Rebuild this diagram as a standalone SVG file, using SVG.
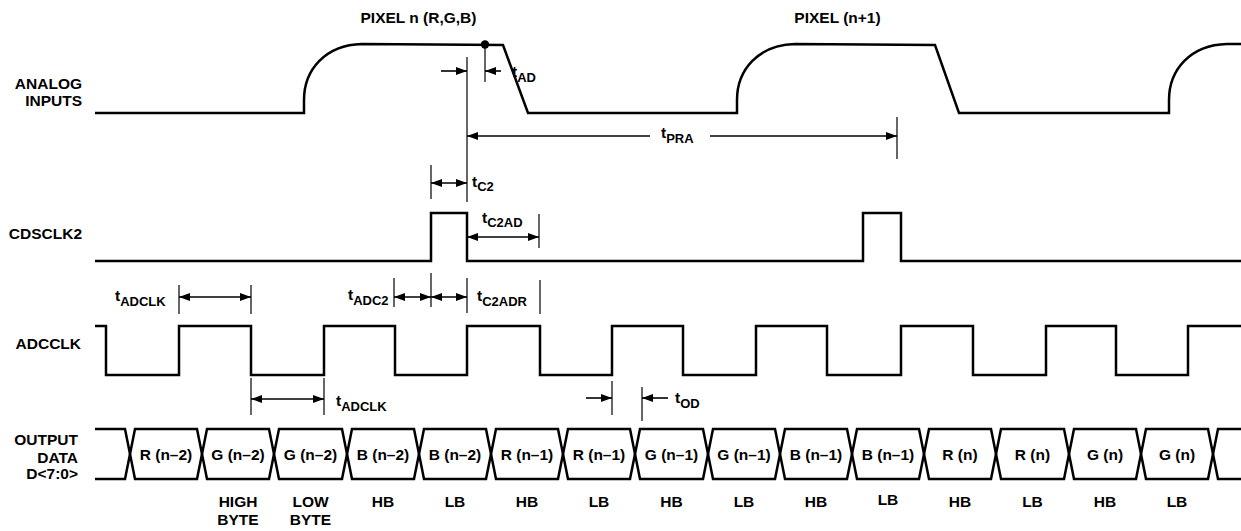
<svg xmlns="http://www.w3.org/2000/svg" width="1241" height="531" viewBox="0 0 1241 531">
<defs>
<marker id="ah" markerUnits="userSpaceOnUse" markerWidth="11" markerHeight="8" refX="11" refY="4" orient="auto-start-reverse">
<path d="M0,0 L11,4 L0,8 Z" fill="#000"/>
</marker>
<style>
.sig{fill:none;stroke:#000;stroke-width:2.5;stroke-linejoin:miter}
.cell{fill:none;stroke:#000;stroke-width:2.5;stroke-linejoin:miter}
.ext{stroke:#000;stroke-width:1.2;fill:none}
.arr{stroke:#000;stroke-width:1.6;fill:none;marker-end:url(#ah)}
.dbl{stroke:#000;stroke-width:1.6;fill:none;marker-start:url(#ah);marker-end:url(#ah)}
text{font-family:"Liberation Sans",Arial,Helvetica,sans-serif;font-weight:bold;font-size:15.5px;fill:#000}
.r{text-anchor:end}
.m{text-anchor:middle}
.t{font-size:15.5px}
.s{font-size:13px}
</style>
</defs>
<rect width="1241" height="531" fill="#fff"/>

<g id="titles">
<text class="m" x="418.5" y="23">PIXEL n (R,G,B)</text>
<text class="m" x="837.5" y="23">PIXEL (n+1)</text>
</g>

<g id="analog-inputs">
<text class="r" x="82" y="89">ANALOG</text>
<text class="r" x="82" y="106">INPUTS</text>
<path class="sig" d="M95,113 H304 V100 C304,70 325,45 362,44 L503,45 L528,113 H737 V100 C737,70 758,45 795,44 L935,45 L959,113 H1169 V100 C1169,70 1190,45 1227,44 H1241"/>
<circle cx="485" cy="44.5" r="4.2" fill="#000"/>
</g>

<g id="cdsclk2">
<text class="r" x="82" y="239">CDSCLK2</text>
<path class="sig" d="M95,261 H431 V213 H467 V261 H863 V213 H901 V261 H1241"/>
</g>

<g id="adcclk">
<text class="r" x="81" y="349">ADCCLK</text>
<path class="sig" d="M95,326 H106 V375 H179 V326 H251 V375 H324 V326 H395 V375 H467 V326 H540 V375 H612 V326 H683 V375 H756 V326 H827 V375 H901 V326 H973 V375 H1046 V326 H1116 V375 H1188 V326 H1241"/>
</g>

<g id="output-data">
<text class="r" x="78" y="445">OUTPUT</text>
<text class="r" x="78" y="463">DATA</text>
<text class="r" x="78" y="479">D&lt;7:0&gt;</text>
<path class="cell" d="M95,429 H125 L130,454 L125,479 H95"/>
<polygon class="cell" points="135,429 197,429 202,454 197,479 135,479 130,454"/>
<polygon class="cell" points="207,429 269,429 274,454 269,479 207,479 202,454"/>
<polygon class="cell" points="279,429 342,429 347,454 342,479 279,479 274,454"/>
<polygon class="cell" points="352,429 414,429 419,454 414,479 352,479 347,454"/>
<polygon class="cell" points="424,429 486,429 491,454 486,479 424,479 419,454"/>
<polygon class="cell" points="496,429 558,429 563,454 558,479 496,479 491,454"/>
<polygon class="cell" points="568,429 630,429 635,454 630,479 568,479 563,454"/>
<polygon class="cell" points="640,429 703,429 708,454 703,479 640,479 635,454"/>
<polygon class="cell" points="713,429 775,429 780,454 775,479 713,479 708,454"/>
<polygon class="cell" points="785,429 847,429 852,454 847,479 785,479 780,454"/>
<polygon class="cell" points="857,429 919,429 924,454 919,479 857,479 852,454"/>
<polygon class="cell" points="929,429 991,429 996,454 991,479 929,479 924,454"/>
<polygon class="cell" points="1001,429 1064,429 1069,454 1064,479 1001,479 996,454"/>
<polygon class="cell" points="1074,429 1136,429 1141,454 1136,479 1074,479 1069,454"/>
<polygon class="cell" points="1146,429 1208,429 1213,454 1208,479 1146,479 1141,454"/>
<path class="cell" d="M1241,429 H1218 L1213,454 L1218,479 H1241"/>
<text class="m" x="166" y="460">R (n–2)</text>
<text class="m" x="238" y="460">G (n–2)</text>
<text class="m" x="310.5" y="460">G (n–2)</text>
<text class="m" x="383" y="460">B (n–2)</text>
<text class="m" x="455" y="460">B (n–2)</text>
<text class="m" x="527" y="460">R (n–1)</text>
<text class="m" x="599" y="460">R (n–1)</text>
<text class="m" x="671.5" y="460">G (n–1)</text>
<text class="m" x="744" y="460">G (n–1)</text>
<text class="m" x="816" y="460">B (n–1)</text>
<text class="m" x="888" y="460">B (n–1)</text>
<text class="m" x="960" y="460">R (n)</text>
<text class="m" x="1032.5" y="460">R (n)</text>
<text class="m" x="1105" y="460">G (n)</text>
<text class="m" x="1177" y="460">G (n)</text>
</g>

<g id="byte-labels">
<text class="m" x="238" y="507">HIGH</text>
<text class="m" x="238" y="525">BYTE</text>
<text class="m" x="310.5" y="507">LOW</text>
<text class="m" x="310.5" y="525">BYTE</text>
<text class="m" x="383" y="507">HB</text>
<text class="m" x="455" y="507">LB</text>
<text class="m" x="527" y="507">HB</text>
<text class="m" x="599" y="507">LB</text>
<text class="m" x="671.5" y="507">HB</text>
<text class="m" x="744" y="507">LB</text>
<text class="m" x="816" y="507">HB</text>
<text class="m" x="888" y="505">LB</text>
<text class="m" x="960" y="507">HB</text>
<text class="m" x="1032.5" y="507">LB</text>
<text class="m" x="1105" y="507">HB</text>
<text class="m" x="1177" y="507">LB</text>
</g>

<g id="connectors">
<line class="ext" x1="467" y1="57" x2="467" y2="202"/>
<line class="ext" x1="485" y1="44" x2="485" y2="82"/>
<line class="ext" x1="897" y1="117" x2="897" y2="159"/>
<line class="ext" x1="431" y1="165" x2="431" y2="199"/>
<line class="ext" x1="539" y1="214" x2="539" y2="248"/>
<line class="ext" x1="179" y1="285" x2="179" y2="314"/>
<line class="ext" x1="251" y1="285" x2="251" y2="314"/>
<line class="ext" x1="394" y1="278" x2="394" y2="307"/>
<line class="ext" x1="431" y1="273" x2="431" y2="307"/>
<line class="ext" x1="467" y1="278" x2="467" y2="313"/>
<line class="ext" x1="540" y1="280" x2="540" y2="314"/>
<line class="ext" x1="251" y1="378" x2="251" y2="415"/>
<line class="ext" x1="324" y1="378" x2="324" y2="415"/>
<line class="ext" x1="612" y1="381" x2="612" y2="415"/>
<line class="ext" x1="642" y1="387" x2="642" y2="421"/>

<line class="arr" x1="441" y1="71" x2="467" y2="71"/>
<line class="arr" x1="501" y1="71" x2="485" y2="71"/>
<line class="arr" x1="650" y1="136" x2="467" y2="136"/>
<line class="arr" x1="710" y1="136" x2="897" y2="136"/>
<line class="dbl" x1="431" y1="183" x2="467" y2="183"/>
<line class="dbl" x1="467" y1="237" x2="539" y2="237"/>
<line class="dbl" x1="179" y1="297" x2="251" y2="297"/>
<line class="dbl" x1="394" y1="297" x2="431" y2="297"/>
<line class="dbl" x1="431" y1="297" x2="467" y2="297"/>
<line class="dbl" x1="251" y1="399" x2="324" y2="399"/>
<line class="arr" x1="586" y1="398" x2="612" y2="398"/>
<line class="arr" x1="668" y1="398" x2="642" y2="398"/>

<text x="512" y="77">t<tspan class="s" dy="5">AD</tspan></text>
<text x="661" y="138">t<tspan class="s" dy="5">PRA</tspan></text>
<text x="472" y="187">t<tspan class="s" dy="4">C2</tspan></text>
<text x="482" y="223">t<tspan class="s" dy="4">C2AD</tspan></text>
<text x="115" y="301">t<tspan class="s" dy="5">ADCLK</tspan></text>
<text x="348" y="300">t<tspan class="s" dy="5">ADC2</tspan></text>
<text x="477" y="301">t<tspan class="s" dy="5">C2ADR</tspan></text>
<text x="336" y="406">t<tspan class="s" dy="5">ADCLK</tspan></text>
<text x="675" y="403">t<tspan class="s" dy="5">OD</tspan></text>
</g>
</svg>
